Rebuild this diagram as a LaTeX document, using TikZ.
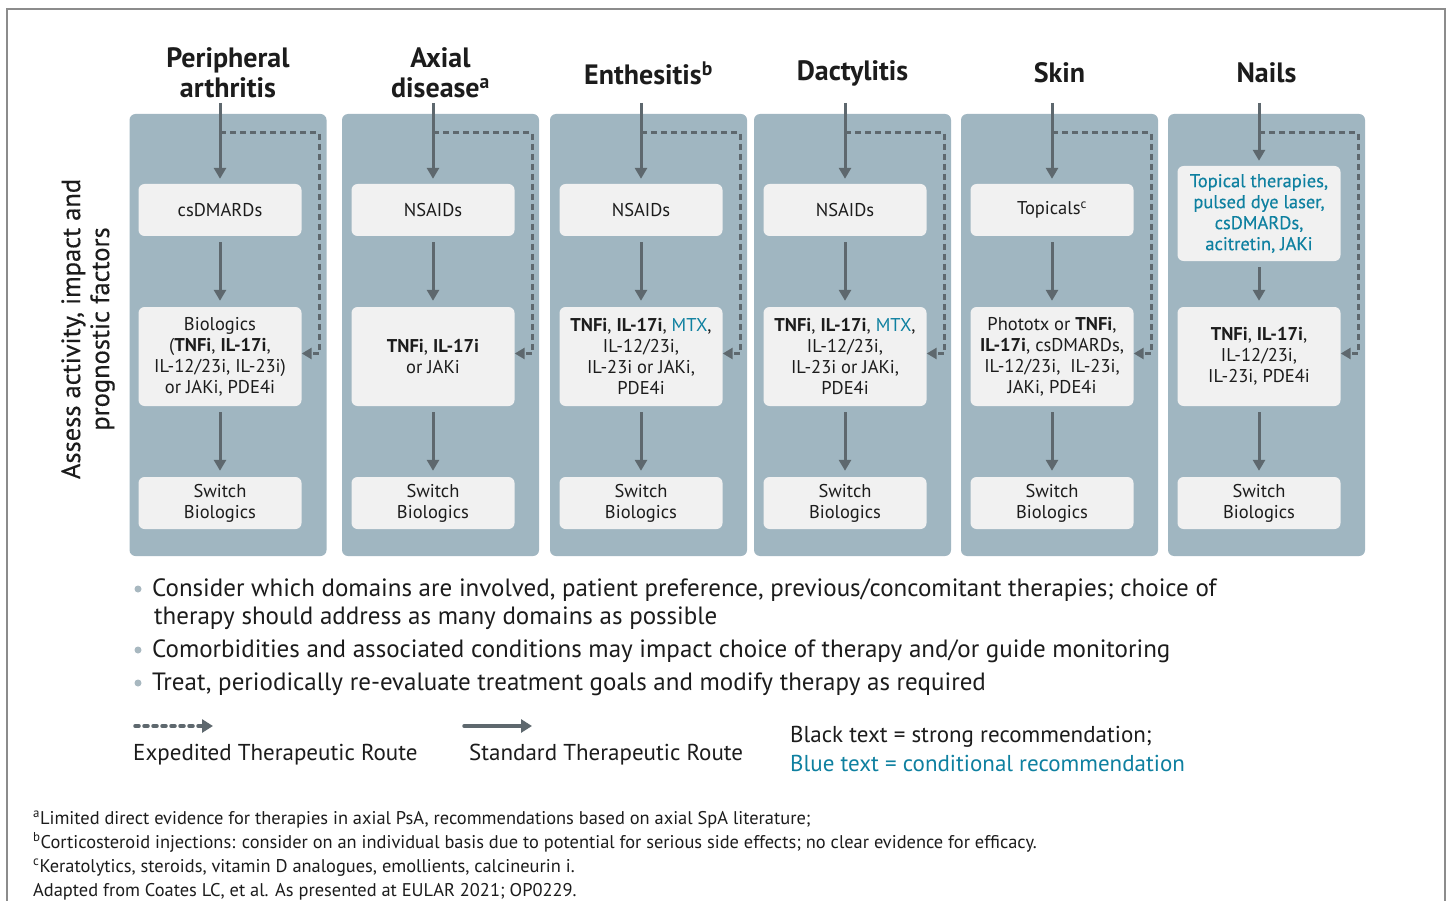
\documentclass[tikz,border=0pt]{standalone}
\usepackage{fontspec}
\setmainfont{PT Sans}
\usetikzlibrary{arrows.meta}

\definecolor{panel}{RGB}{160,182,193}
\definecolor{boxfill}{RGB}{241,241,241}
\definecolor{arrowc}{RGB}{94,104,110}
\definecolor{ink}{RGB}{28,28,28}
\definecolor{condblue}{RGB}{14,128,160}
\definecolor{framegray}{RGB}{140,140,140}
\definecolor{dotgray}{RGB}{168,184,192}

\newcommand{\fsz}[2]{\fontsize{#1}{#2}\selectfont}
\newcommand{\medium}{\addfontfeature{FakeBold=0.35}}

\tikzset{
  panelbox/.style={fill=panel, rounded corners=6pt, minimum width=197pt,
    minimum height=442pt, inner sep=0pt},
  stepbox/.style={fill=boxfill, rounded corners=6pt, minimum width=163pt,
    inner sep=0pt, align=center, text=ink, font=\fsz{18.5}{21}},
  header/.style={font=\bfseries\fsz{28}{30}, align=center, text=ink},
  flow/.style={draw=arrowc, line width=3pt, -{Triangle[length=11pt,width=12pt]}},
  fast/.style={draw=arrowc, line width=3pt, dash pattern=on 6pt off 4pt,
    -{Triangle[length=10pt,width=11pt]}},
  legfast/.style={draw=arrowc, line width=3.5pt, line cap=round,
    dash pattern=on 4pt off 5pt, -{Triangle[length=11pt,width=13pt]}},
  legflow/.style={draw=arrowc, line width=3.5pt, line cap=round,
    -{Triangle[length=11pt,width=13pt]}},
  bullettext/.style={anchor=base west, inner sep=0pt, text=ink, font=\fsz{25}{28}},
  legendtext/.style={anchor=base west, inner sep=0pt, text=ink, font=\fsz{23}{26}},
  notetext/.style={anchor=base west, inner sep=0pt, text=ink, font=\fsz{18.4}{20}},
  bulletdot/.style={circle, fill=dotgray, inner sep=0pt, minimum size=7pt},
}

% One treatment domain: id, arrow x, panel centre x, header,
% first box y, first box height, first box text, second box text
\newcommand{\domain}[8]{%
  \node[panelbox] (p#1) at (#3,335) {};
  \node[header] (h#1) at (#3,73) {#4};
  \node[stepbox, minimum height=#6pt] (t#1) at (#2,#5) {#7};
  \node[stepbox, minimum height=99pt] (m#1) at (#2,356.5) {#8};
  \node[stepbox, minimum height=52pt] (b#1) at (#2,503) {Switch\\Biologics};
  \coordinate (s#1) at (#2,103);
  \coordinate (j#1) at (#2,133);
  \draw[fast] (j#1) -- ++(99,0) |- ([yshift=3pt]m#1.east);
  \draw[flow, shorten >=5pt] (s#1) -- (t#1);
  \draw[flow, shorten <=6pt, shorten >=6pt] (t#1) -- (m#1);
  \draw[flow, shorten <=6pt, shorten >=6pt] (m#1) -- (b#1);
}

\begin{document}
\begin{tikzpicture}[x=1pt, y=-1pt]
  \useasboundingbox (0,0) rectangle (1447,901);
  \fill[white] (0,0) rectangle (1447,901);

  % outer frame, open at the bottom
  \draw[framegray, line width=1.2pt] (7,901) -- (7,9) -- (1445,9) -- (1445,901);

  % side label
  \node[rotate=90, align=center, text=ink, font=\medium\fsz{26.5}{29}] (assess) at (88,329)
    {Assess activity, impact and\\prognostic factors};

  \domain{1}{220}{228}{Peripheral\\arthritis}{210}{52}{csDMARDs}
    {Biologics\\(\textbf{TNFi}, \textbf{IL-17i},\\IL-12/23i, IL-23i)\\or JAKi, PDE4i}
  \domain{2}{433}{440.5}{Axial\\disease\textsuperscript{a}}{210}{52}{NSAIDs}
    {\textbf{TNFi}, \textbf{IL-17i}\\or JAKi}
  \domain{3}{641}{648.5}{Enthesitis\textsuperscript{b}}{210}{52}{NSAIDs}
    {\textbf{TNFi}, \textbf{IL-17i}, \textcolor{condblue}{MTX},\\IL-12/23i,\\IL-23i or JAKi,\\PDE4i}
  \domain{4}{845}{852.5}{Dactylitis}{210}{52}{NSAIDs}
    {\textbf{TNFi}, \textbf{IL-17i}, \textcolor{condblue}{MTX},\\IL-12/23i,\\IL-23i or JAKi,\\PDE4i}
  \domain{5}{1052}{1059.5}{Skin}{210}{52}{Topicals\textsuperscript{c}}
    {Phototx or \textbf{TNFi},\\\textbf{IL-17i}, csDMARDs,\\IL-12/23i,\ \ IL-23i,\\JAKi, PDE4i}
  \domain{6}{1259}{1266.5}{Nails}{213.5}{95}
    {\color{condblue}\medium Topical therapies,\\\color{condblue}\medium pulsed dye laser,\\\color{condblue}\medium csDMARDs,\\\color{condblue}\medium acitretin, JAKi}
    {\textbf{TNFi}, \textbf{IL-17i},\\IL-12/23i,\\IL-23i, PDE4i}

  % general principles
  \node[bulletdot] (d1) at (138,589) {};
  \node[bullettext] (g1a) at (152,596) {Consider which domains are involved, patient preference, previous/concomitant therapies; choice of};
  \node[bullettext] (g1b) at (154,624) {therapy should address as many domains as possible};
  \node[bulletdot] (d2) at (138,650) {};
  \node[bullettext] (g2) at (152,657) {Comorbidities and associated conditions may impact choice of therapy and/or guide monitoring};
  \node[bulletdot] (d3) at (138,683) {};
  \node[bullettext] (g3) at (152,690) {Treat, periodically re-evaluate treatment goals and modify therapy as required};

  % legend
  \coordinate (lf1) at (135,726);
  \coordinate (lf2) at (213,726);
  \draw[legfast] (lf1) -- (lf2);
  \node[legendtext] (lfx) at (133,760) {Expedited Therapeutic Route};
  \coordinate (ls1) at (464,726);
  \coordinate (ls2) at (532,726);
  \draw[legflow] (ls1) -- (ls2);
  \node[legendtext] (lsx) at (469,760) {Standard Therapeutic Route};
  \node[legendtext] (kb) at (790,742) {Black text = strong recommendation;};
  \node[legendtext, text=condblue] (kc) at (790,771) {Blue text = conditional recommendation};

  % footnotes
  \node[notetext] (fa) at (33,824) {\textsuperscript{a}Limited direct evidence for therapies in axial PsA, recommendations based on axial SpA literature;};
  \node[notetext] (fb) at (33,848) {\textsuperscript{b}Corticosteroid injections: consider on an individual basis due to potential for serious side effects; no clear evidence for efficacy.};
  \node[notetext] (fc) at (33,872) {\textsuperscript{c}Keratolytics, steroids, vitamin D analogues, emollients, calcineurin i.};
  \node[notetext] (fd) at (33,896) {Adapted from Coates LC, et al. As presented at EULAR 2021; OP0229.};
\end{tikzpicture}
\end{document}
